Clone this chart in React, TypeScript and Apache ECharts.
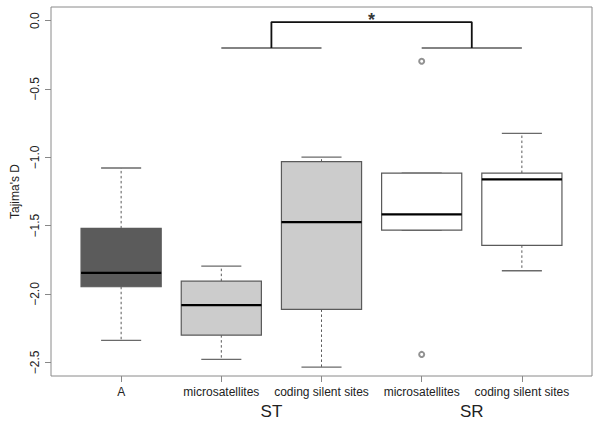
import React, { useEffect, useRef } from "react";
import * as echarts from "echarts";

const categories = ["A", "microsatellites", "coding silent sites", "microsatellites", "coding silent sites"];
const positions = [1, 2, 3, 4, 5];
const groupLabels = ["ST", "SR"];
const groupPositions = [2.5, 4.5];
const lowerWhisker = [-2.34, -2.479, -2.535, -1.532, -1.83];
const q1 = [-1.947, -2.301, -2.113, -1.532, -1.644];
const median = [-1.845, -2.081, -1.474, -1.417, -1.161];
const q3 = [-1.52, -1.906, -1.032, -1.115, -1.115];
const upperWhisker = [-1.078, -1.796, -0.998, -1.115, -0.824];
const boxFills = ["#5b5b5b", "#cccccc", "#cccccc", "#ffffff", "#ffffff"];
const outliers = [
  [4, -0.297],
  [4, -2.442],
];
const yTicks = [-2.5, -2, -1.5, -1, -0.5, 0];
const groupBars = [
  [[2, -0.2], [3, -0.2]],
  [[4, -0.2], [5, -0.2]],
];
const bracket = [
  [2.5, -0.2],
  [2.5, -0.01],
  [4.5, -0.01],
  [4.5, -0.2],
];
const starPoint = [[3.5, 0.006]];

const FONT = "'Liberation Sans', Arial, Helvetica, sans-serif";

export default function App() {
  const ref = useRef<HTMLDivElement>(null);
  useEffect(() => {
    document.body.style.margin = "0";
    if (!ref.current) return;
    const chart = echarts.init(ref.current, null, { renderer: "svg" });
    const boxData = positions.map((p, i) => [p, lowerWhisker[i], q1[i], median[i], q3[i], upperWhisker[i]]);
    const option: any = {
      animation: false,
      backgroundColor: "#ffffff",
      grid: {
        left: 51,
        top: 7,
        width: 541,
        height: 369,
        show: true,
        borderColor: "#8a8a8a",
        borderWidth: 1,
        backgroundColor: "transparent",
      },
      xAxis: [
        {
          type: "value",
          min: 0.3,
          max: 5.7,
          axisLine: { show: false, onZero: false },
          splitLine: { show: false },
          axisTick: { show: true, customValues: positions, length: 6, lineStyle: { color: "#888" } },
          axisLabel: {
            customValues: positions,
            formatter: (v: number) => categories[positions.indexOf(Math.round(v))] ?? "",
            fontSize: 12,
            color: "#222",
            margin: 10,
            fontFamily: FONT,
          },
        },
        {
          type: "value",
          min: 0.3,
          max: 5.7,
          position: "bottom",
          axisLine: { show: false, onZero: false },
          splitLine: { show: false },
          axisTick: { show: false },
          axisLabel: {
            customValues: groupPositions,
            formatter: (v: number) => groupLabels[groupPositions.indexOf(v)] ?? "",
            fontSize: 17,
            color: "#222",
            margin: 27,
            fontFamily: FONT,
          },
        },
      ],
      yAxis: {
        type: "value",
        min: -2.6,
        max: 0.1,
        axisLine: { show: false, onZero: false },
        splitLine: { show: false },
        axisTick: { show: true, customValues: yTicks, length: 6, lineStyle: { color: "#888" } },
        axisLabel: {
          customValues: yTicks,
          rotate: 90,
          formatter: (v: number) => (v < 0 ? "\u2212" : "") + Math.abs(v).toFixed(1),
          fontSize: 12,
          color: "#222",
          margin: 10,
          fontFamily: FONT,
        },
        name: "Tajima's D",
        nameLocation: "middle",
        nameRotate: 90,
        nameGap: 30,
        nameTextStyle: { fontSize: 12, color: "#222", fontFamily: FONT },
      },
      series: [
        {
          type: "custom",
          xAxisIndex: 0,
          data: boxData,
          encode: { x: 0, y: [1, 2, 3, 4, 5] },
          renderItem: (params: any, api: any) => {
            const x = api.value(0);
            const lo = api.coord([x, api.value(1)]);
            const b1 = api.coord([x, api.value(2)]);
            const md = api.coord([x, api.value(3)]);
            const b3 = api.coord([x, api.value(4)]);
            const hi = api.coord([x, api.value(5)]);
            const cx = lo[0];
            const halfBox = api.coord([x + 0.4, 0])[0] - cx;
            const halfCap = api.coord([x + 0.2, 0])[0] - cx;
            const grey = "#5a5a5a";
            const children: any[] = [];
            if (Math.abs(hi[1] - b3[1]) > 0.5) {
              children.push({
                type: "line",
                shape: { x1: cx, y1: b3[1], x2: cx, y2: hi[1] },
                style: { stroke: grey, lineWidth: 1, lineDash: [2.5, 2.5] },
              });
            }
            if (Math.abs(lo[1] - b1[1]) > 0.5) {
              children.push({
                type: "line",
                shape: { x1: cx, y1: b1[1], x2: cx, y2: lo[1] },
                style: { stroke: grey, lineWidth: 1, lineDash: [2.5, 2.5] },
              });
            }
            children.push({
              type: "line",
              shape: { x1: cx - halfCap, y1: hi[1], x2: cx + halfCap, y2: hi[1] },
              style: { stroke: "#6a6a6a", lineWidth: 1.3 },
            });
            children.push({
              type: "line",
              shape: { x1: cx - halfCap, y1: lo[1], x2: cx + halfCap, y2: lo[1] },
              style: { stroke: "#6a6a6a", lineWidth: 1.3 },
            });
            children.push({
              type: "rect",
              shape: { x: cx - halfBox, y: b3[1], width: 2 * halfBox, height: b1[1] - b3[1] },
              style: { fill: boxFills[params.dataIndex], stroke: grey, lineWidth: 1.2 },
            });
            children.push({
              type: "line",
              shape: { x1: cx - halfBox, y1: md[1], x2: cx + halfBox, y2: md[1] },
              style: { stroke: "#000", lineWidth: 2.2 },
            });
            return { type: "group", children };
          },
          z: 2,
        },
        {
          type: "scatter",
          xAxisIndex: 0,
          data: outliers,
          symbol: "emptyCircle",
          symbolSize: 5,
          itemStyle: { color: "#777", borderWidth: 0.8 },
          z: 3,
        },
        ...groupBars.map((seg) => ({
          type: "line",
          xAxisIndex: 0,
          data: seg,
          symbol: "none",
          lineStyle: { color: "#5a5a5a", width: 1.6 },
          z: 3,
        })),
        {
          type: "line",
          xAxisIndex: 0,
          data: bracket,
          symbol: "none",
          lineStyle: { color: "#111", width: 1.8 },
          z: 4,
        },
        {
          type: "scatter",
          xAxisIndex: 0,
          data: starPoint,
          symbolSize: 0,
          label: {
            show: true,
            position: "inside",
            formatter: "*",
            fontSize: 18,
            fontWeight: "bold",
            color: "#000",
            fontFamily: FONT,
          },
          z: 5,
        },
      ],
    };
    chart.setOption(option);
    return () => chart.dispose();
  }, []);
  return <div ref={ref} style={{ width: 600, height: 426 }} />;
}
